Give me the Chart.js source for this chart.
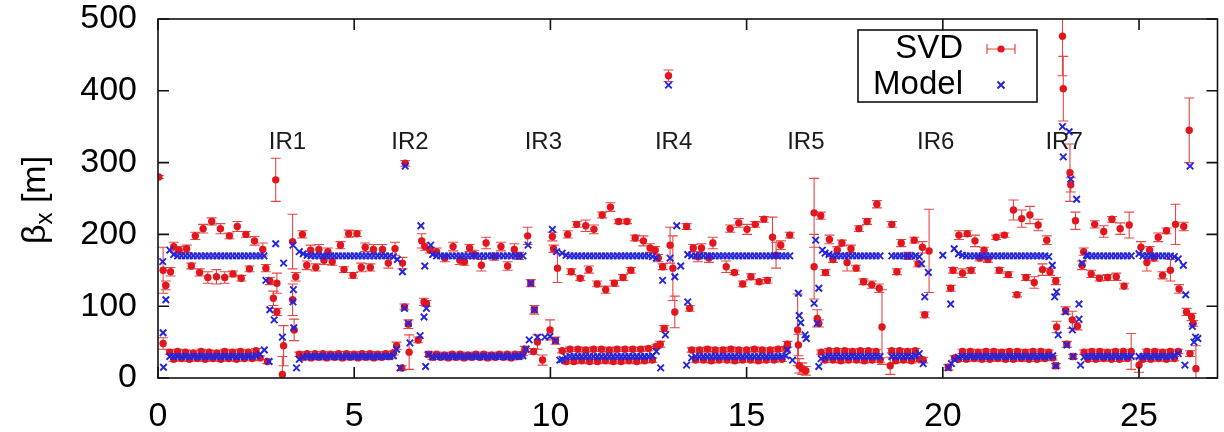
<!DOCTYPE html>
<html>
<head>
<meta charset="utf-8">
<script src="https://cdn.jsdelivr.net/npm/chart.js@4.4.1/dist/chart.umd.min.js"></script>
<style>
html, body { margin: 0; padding: 0; background: #fff; }
</style>
</head>
<body>
<canvas id="betaChart" width="1224" height="432"></canvas>
<script>
// horizontal beta function along the ring, s in km
var xTicks = [0, 5, 10, 15, 20, 25];
var yTicks = [0, 100, 200, 300, 400, 500];
var legendLabels = ['SVD', 'Model'];
var irLabels = ['IR1', 'IR2', 'IR3', 'IR4', 'IR5', 'IR6', 'IR7'];
var irS = [3.3, 6.42, 9.82, 13.14, 16.51, 19.82, 23.09];
var irLabelBeta = 328;

// model, high beta BPMs in the arcs [s, beta]
var modelHigh = [
  [0.4,172],[0.5,170],[0.6,170],[0.7,170],[0.8,170],[0.9,170],[1.0,170],[1.1,170],[1.2,170],[1.3,170],[1.4,170],[1.5,170],[1.6,170],[1.7,170],[1.8,170],[1.9,170],[2.0,170],[2.1,170],[2.2,170],[2.3,170],[2.4,170],[2.5,170],[2.6,170],[2.7,170],
  [3.7,173],[3.8,171],[3.9,170],[4.0,170],[4.1,170],[4.2,170],[4.3,170],[4.4,170],[4.5,170],[4.6,170],[4.7,170],[4.8,170],[4.9,170],[5.0,170],[5.1,170],[5.2,170],[5.3,170],[5.4,170],[5.5,170],[5.6,170],[5.7,170],[5.8,170],[5.9,170],[6.0,169],[6.1,165],
  [7.0,172],[7.1,170],[7.2,170],[7.3,170],[7.4,170],[7.5,170],[7.6,170],[7.7,170],[7.8,170],[7.9,170],[8.0,170],[8.1,170],[8.2,170],[8.3,170],[8.4,170],[8.5,170],[8.6,170],[8.7,170],[8.8,170],[8.9,170],[9.0,170],[9.1,170],[9.2,170],[9.3,170],
  [10.3,174],[10.4,171],[10.5,170],[10.6,170],[10.7,170],[10.8,170],[10.9,170],[11.0,170],[11.1,170],[11.2,170],[11.3,170],[11.4,170],[11.5,170],[11.6,170],[11.7,170],[11.8,170],[11.9,170],[12.0,170],[12.1,170],[12.2,170],[12.3,170],[12.4,170],[12.5,170],[12.6,169],[12.7,167],
  [13.5,172],[13.6,170],[13.7,170],[13.8,170],[13.9,170],[14.0,170],[14.1,170],[14.2,170],[14.3,170],[14.4,170],[14.5,170],[14.6,170],[14.7,170],[14.8,170],[14.9,170],[15.0,170],[15.1,170],[15.2,170],[15.3,170],[15.4,170],[15.5,170],[15.6,170],[15.7,170],[15.8,170],[15.9,170],[16.0,170],[16.1,170],
  [17.0,174],[17.1,172],[17.2,170],[17.3,170],[17.4,170],[17.5,170],[17.6,170],[17.7,170],[17.8,170],[17.9,170],[18.0,170],[18.1,170],[18.2,170],[18.3,170],[18.4,170],
  [18.7,170],[18.8,170],[18.9,170],[19.0,170],[19.1,170],[19.2,170],[19.3,170],[19.4,169],
  [20.4,173],[20.5,171],[20.6,170],[20.7,170],[20.8,170],[20.9,170],[21.0,170],[21.1,170],[21.2,170],[21.3,170],[21.4,170],[21.5,170],[21.6,170],[21.7,170],[21.8,170],[21.9,170],[22.0,170],[22.1,170],[22.2,170],[22.3,170],[22.4,170],[22.5,170],[22.6,170],[22.7,169],
  [23.7,170],[23.8,170],[23.9,170],[24.0,170],[24.1,170],[24.2,170],[24.3,170],[24.4,170],[24.5,170],[24.6,170],[24.7,170],[24.8,170],
  [25.0,173],[25.1,170],[25.2,170],[25.3,170],[25.4,170],[25.5,170],[25.6,170],[25.7,170],[25.8,170],[25.9,169],[26.0,166]
];

// model, low beta BPMs in the arcs [s, beta]
var modelLow = [
  [0.3,30],[0.4,30],[0.5,30],[0.6,30],[0.7,30],[0.8,30],[0.9,30],[1.0,30],[1.1,30],[1.2,30],[1.3,30],[1.4,30],[1.5,30],[1.6,30],[1.7,30],[1.8,30],[1.9,30],[2.0,30],[2.1,30],[2.2,30],[2.3,30],[2.4,30],[2.5,31],[2.6,33],
  [3.6,26],[3.7,29],[3.8,30],[3.9,30],[4.0,30],[4.1,30],[4.2,30],[4.3,30],[4.4,30],[4.5,30],[4.6,30],[4.7,30],[4.8,30],[4.9,30],[5.0,30],[5.1,30],[5.2,30],[5.3,30],[5.4,30],[5.5,30],[5.6,30],[5.7,30],[5.8,30],[5.9,30],[6.0,31],
  [6.9,33],[7.0,29],[7.1,30],[7.2,30],[7.3,30],[7.4,30],[7.5,30],[7.6,30],[7.7,30],[7.8,30],[7.9,30],[8.0,30],[8.1,30],[8.2,30],[8.3,30],[8.4,30],[8.5,30],[8.6,30],[8.7,30],[8.8,30],[8.9,30],[9.0,30],[9.1,30],[9.2,30],[9.3,31],
  [10.3,26],[10.4,29],[10.5,30],[10.6,30],[10.7,30],[10.8,30],[10.9,30],[11.0,30],[11.1,30],[11.2,30],[11.3,30],[11.4,30],[11.5,30],[11.6,30],[11.7,30],[11.8,30],[11.9,30],[12.0,30],[12.1,30],[12.2,30],[12.3,30],[12.4,30],[12.5,30],[12.6,31],[12.7,37],
  [13.6,28],[13.7,30],[13.8,30],[13.9,30],[14.0,30],[14.1,30],[14.2,30],[14.3,30],[14.4,30],[14.5,30],[14.6,30],[14.7,30],[14.8,30],[14.9,30],[15.0,30],[15.1,30],[15.2,30],[15.3,30],[15.4,30],[15.5,30],[15.6,30],[15.7,30],[15.8,30],[15.9,30],[16.0,31],
  [16.9,27],[17.0,29],[17.1,30],[17.2,30],[17.3,30],[17.4,30],[17.5,30],[17.6,30],[17.7,30],[17.8,30],[17.9,30],[18.0,30],[18.1,30],[18.2,30],[18.3,30],[18.4,30],
  [18.7,30],[18.8,30],[18.9,30],[19.0,30],[19.1,30],[19.2,30],[19.3,31],[19.4,34],
  [20.3,26],[20.4,29],[20.5,30],[20.6,30],[20.7,30],[20.8,30],[20.9,30],[21.0,30],[21.1,30],[21.2,30],[21.3,30],[21.4,30],[21.5,30],[21.6,30],[21.7,30],[21.8,30],[21.9,30],[22.0,30],[22.1,30],[22.2,30],[22.3,30],[22.4,30],[22.5,30],[22.6,30],[22.7,30],[22.8,31],
  [23.6,29],[23.7,30],[23.8,30],[23.9,30],[24.0,30],[24.1,30],[24.2,30],[24.3,30],[24.4,30],[24.5,30],[24.6,30],[24.7,30],[24.8,30],
  [25.0,30],[25.1,30],[25.2,30],[25.3,30],[25.4,30],[25.5,30],[25.6,30],[25.7,30],[25.8,30],[25.9,31],[26.0,34]
];

// model, BPMs around the insertion regions [s, beta]
var modelIR = [
  [0.12,162],[0.13,63],[0.14,15],[0.2,109],[0.3,178],
  [2.71,39],[2.83,23],[2.75,136],[2.85,95],[2.96,81],[3.0,187],[3.17,57],[3.2,160],[3.44,185],[3.45,123],[3.44,106],[3.46,70],[3.53,14],[3.6,176],
  [6.08,40],[6.17,14],[6.23,148],[6.3,295],[6.28,97],[6.38,76],[6.42,49],[6.7,212],[6.8,156],[6.84,97],[6.78,85],[6.68,59],[6.82,16],[6.95,185],
  [9.43,185],[9.5,132],[9.59,95],[9.38,40],[9.46,53],[9.67,57],[9.86,57],[9.99,58],[10.13,52],[10.24,25],[10.05,207],[10.16,176],
  [12.81,14],[12.86,136],[12.93,60],[13.01,408],[13.05,167],[13.17,141],[13.22,212],[13.32,156],[13.5,106],[13.47,18],
  [16.04,39],[16.17,25],[16.32,118],[16.34,87],[16.38,77],[16.49,60],[16.52,55],[16.72,104],[16.76,192],[16.8,76],[16.84,125],[16.84,16],[16.93,178],
  [19.46,159],[19.5,20],[19.54,113],[19.63,147],[20.0,171],[20.14,14],[20.2,103],[20.22,20],[20.29,180],
  [22.79,157],[22.85,113],[22.9,120],[22.88,17],[22.94,60],[23.05,350],[23.07,308],[23.13,92],[23.16,46],[23.22,343],[23.26,277],[23.3,67],[23.32,30],[23.41,249],[23.47,82],[23.47,103],[23.51,18],[23.55,160],[23.66,171],
  [26.13,157],[26.17,18],[26.19,116],[26.3,295],[26.36,72],[26.4,50],[26.44,57],[26.5,55]
];

// SVD, beating high beta BPMs in the arcs [s, beta, error]
var svdHigh = [
  [0.02,280,2],[0.13,150,32],[0.2,129,6],[0.32,148,6],[0.4,183,6],[0.54,178,5],[0.73,180,5],
  [0.95,198,5],[1.15,208,6],[1.37,218,5],[1.59,208,7],[1.82,198,4],[2.02,211,7],[2.24,200,4],[2.46,191,6],[2.67,179,9],
  [0.85,156,4],[1.06,147,5],[1.27,140,8],[1.49,141,10],[1.70,140,8],[1.91,145,4],[2.12,139,4],[2.33,152,4],[2.75,153,5],
  [3.68,200,5],[3.89,178,7],[4.1,179,7],[4.33,176,5],[4.65,185,5],[4.86,201,5],[5.07,201,4],[5.28,182,6],[5.49,179,7],[5.72,179,7],[6.04,180,9],
  [3.79,157,6],[4.02,154,5],[4.23,164,6],[4.44,162,5],[4.74,151,4],[4.97,143,4],[5.18,154,6],[5.41,154,5],[5.87,160,7],[6.23,160,8],
  [7.1,176,5],[7.31,167,5],[7.52,183,6],[7.69,164,6],[7.81,162,5],[7.94,181,5],[8.06,172,6],[8.24,157,8],[8.36,188,8],[8.57,169,5],[8.74,183,6],[8.91,156,6],[9.08,179,8],[9.2,170,5],
  [10.44,200,5],[10.67,214,4],[10.9,212,8],[11.11,207,6],[11.32,227,4],[11.53,238,6],[11.74,218,3],[11.95,218,3],[12.16,195,4],[12.37,191,7],[12.54,181,6],[12.67,178,5],
  [10.53,148,4],[10.76,139,3],[10.98,151,5],[11.19,131,4],[11.41,123,5],[11.63,132,4],[11.85,140,4],[12.05,150,4],[12.75,167,5],[12.86,155,4],
  [13.64,181,5],[13.85,181,6],[14.14,188,8],[14.58,208,5],[14.8,216,6],[15.01,207,7],[15.22,214,4],[15.44,221,4],[15.66,196,28],[15.87,185,6],[16.1,199,4],
  [13.76,169,7],[14.04,167,6],[14.48,155,8],[14.69,147,3],[14.9,131,4],[15.11,141,4],[15.32,134,3],[15.53,136,4],[15.75,171,18],
  [17.11,193,6],[17.31,178,5],[17.43,188,4],[17.66,180,5],[17.86,208,4],[18.07,218,4],[18.32,242,5],[18.7,214,4],[18.94,188,5],[19.27,192,4],[19.48,182,8],[19.65,177,58],
  [17.2,165,4],[17.56,161,12],[17.79,153,4],[17.98,134,4],[18.19,130,5],[18.38,125,6],[18.45,71,52],[18.66,17,12],[18.83,148,4],[19.12,170,5],[19.37,159,4],[19.54,88,4],
  [20.82,191,8],[21.05,178,4],[21.36,196,3],[21.57,199,3],[21.8,234,14],[22.01,222,12],[22.22,227,12],[22.43,213,8],[22.65,192,6],
  [20.94,167,4],[21.15,165,4],[21.44,150,4],[21.67,144,4],[21.89,116,3],[22.12,140,4],[22.33,133,8],[22.54,151,8],[22.73,148,5],[22.88,135,5],
  [23.87,214,5],[24.1,204,8],[24.31,221,4],[24.52,208,8],[24.75,213,18],[25.05,182,8],[25.27,178,5],[25.49,196,6],[25.7,205,4],[25.93,214,28],[26.14,211,6],[26.28,345,45],
  [23.78,145,5],[23.99,139,4],[24.2,140,4],[24.42,141,5],[24.62,128,4],[25.2,161,12],[25.38,167,4],[25.6,143,5],[25.8,150,15],[26.02,124,6],[26.21,92,5],[26.34,85,5],[26.38,76,4]
];

// SVD, low beta BPMs in the arcs [s, beta, error]
var svdLow = [
  [0.3,36,3],[0.4,26,3],[0.5,37,3],[0.6,27,3],[0.7,36,3],[0.8,26,3],[0.9,35,3],[1.0,27,3],[1.1,37,3],[1.2,26,3],[1.3,36,3],[1.4,27,3],[1.5,35,3],[1.6,26,3],[1.7,37,3],[1.8,27,3],[1.9,36,3],[2.0,26,3],[2.1,37,3],[2.2,27,3],[2.3,36,3],[2.4,27,3],[2.5,38,3],[2.6,28,3],
  [3.6,33,3],[3.7,29,3],[3.8,34,3],[3.9,28,3],[4.0,34,3],[4.1,29,3],[4.2,34,3],[4.3,28,3],[4.4,33,3],[4.5,29,3],[4.6,34,3],[4.7,28,3],[4.8,34,3],[4.9,29,3],[5.0,33,3],[5.1,28,3],[5.2,34,3],[5.3,29,3],[5.4,34,3],[5.5,28,3],[5.6,33,3],[5.7,29,3],[5.8,34,3],[5.9,30,3],[6.0,35,3],
  [6.9,33,3],[7.0,29,3],[7.1,33,3],[7.2,29,3],[7.3,32,3],[7.4,28,3],[7.5,33,3],[7.6,29,3],[7.7,33,3],[7.8,28,3],[7.9,32,3],[8.0,29,3],[8.1,33,3],[8.2,29,3],[8.3,33,3],[8.4,28,3],[8.5,32,3],[8.6,29,3],[8.7,33,3],[8.8,29,3],[8.9,33,3],[9.0,28,3],[9.1,33,3],[9.2,30,3],[9.3,34,3],
  [10.3,38,3],[10.4,23,3],[10.5,40,3],[10.6,23,3],[10.7,40,3],[10.8,24,3],[10.9,39,3],[11.0,23,3],[11.1,40,3],[11.2,23,3],[11.3,40,3],[11.4,24,3],[11.5,39,3],[11.6,23,3],[11.7,40,3],[11.8,23,3],[11.9,40,3],[12.0,24,3],[12.1,40,3],[12.2,23,3],[12.3,40,3],[12.4,24,3],[12.5,41,3],[12.6,25,3],[12.7,44,3],
  [13.6,39,3],[13.7,25,3],[13.8,39,3],[13.9,25,3],[14.0,40,3],[14.1,24,3],[14.2,39,3],[14.3,25,3],[14.4,39,3],[14.5,25,3],[14.6,40,3],[14.7,24,3],[14.8,39,3],[14.9,25,3],[15.0,39,3],[15.1,25,3],[15.2,40,3],[15.3,24,3],[15.4,39,3],[15.5,25,3],[15.6,39,3],[15.7,25,3],[15.8,40,3],[15.9,26,3],[16.0,41,3],
  [16.9,36,3],[17.0,25,3],[17.1,38,3],[17.2,25,3],[17.3,38,3],[17.4,24,3],[17.5,38,3],[17.6,25,3],[17.7,37,3],[17.8,25,3],[17.9,38,3],[18.0,24,3],[18.1,38,3],[18.2,25,3],[18.3,37,3],[18.4,25,3],
  [18.7,38,3],[18.8,24,3],[18.9,38,3],[19.0,25,3],[19.1,37,3],[19.2,24,3],[19.3,38,3],[19.4,26,3],
  [20.3,28,3],[20.4,26,3],[20.5,37,3],[20.6,26,3],[20.7,37,3],[20.8,27,3],[20.9,36,3],[21.0,26,3],[21.1,37,3],[21.2,26,3],[21.3,37,3],[21.4,27,3],[21.5,36,3],[21.6,26,3],[21.7,37,3],[21.8,26,3],[21.9,37,3],[22.0,27,3],[22.1,36,3],[22.2,26,3],[22.3,37,3],[22.4,26,3],[22.5,37,3],[22.6,27,3],[22.7,36,3],[22.8,28,3],
  [23.6,36,3],[23.7,26,3],[23.8,37,3],[23.9,26,3],[24.0,37,3],[24.1,27,3],[24.2,36,3],[24.3,26,3],[24.4,37,3],[24.5,26,3],[24.6,37,3],[24.7,27,3],[24.8,37,25],
  [25.0,18,10],[25.1,26,3],[25.2,37,3],[25.3,26,3],[25.4,37,3],[25.5,27,3],[25.6,36,3],[25.7,26,3],[25.8,37,3],[25.9,27,3],[26.0,37,3]
];

// SVD, BPMs around the insertion regions [s, beta, error]
var svdIR = [
  [0.13,48,8],
  [2.79,23,3],[2.85,135,5],[2.94,111,10],[3.03,92,5],[3.03,132,14],[3.0,276,30],[3.2,45,28],[3.17,5,25],[3.43,190,38],[3.51,141,6],[3.43,109,22],[3.47,67,15],
  [6.08,45,5],[6.21,14,3],[6.3,299,4],[6.28,99,4],[6.38,75,6],[6.4,36,24],[6.63,53,4],[6.72,191,10],[6.8,183,5],[6.78,106,5],[6.84,104,4],[6.93,178,4],
  [9.35,40,4],[9.42,198,12],[9.5,132,5],[9.59,95,6],[9.57,37,4],[9.67,50,10],[9.8,25,7],[9.99,67,14],[10.05,197,6],[10.08,180,5],[10.18,153,20],[10.13,52,5],
  [12.8,47,4],[12.9,69,4],[13.01,421,8],[13.05,185,25],[13.12,153,45],[13.17,92,22],[13.47,211,4],[13.55,97,4],
  [16.04,47,4],[16.3,67,50],[16.32,46,15],[16.34,17,10],[16.42,13,8],[16.51,10,6],[16.72,230,48],[16.72,155,45],[16.89,226,5],[16.8,83,12],[16.84,76,5],[17.01,147,4],
  [19.5,25,4],[20.14,15,4],[20.2,125,4],[20.26,150,4],[20.41,199,6],[20.5,146,6],[20.62,201,4],[20.72,150,4],
  [22.9,71,8],[22.88,17,3],[23.13,94,5],[23.16,47,4],[23.05,476,55],[23.07,403,45],[23.24,286,40],[23.26,269,10],[23.38,219,12],[23.3,81,12],[23.43,72,5],[23.32,30,3],[23.55,157,6],[23.59,176,5],
  [26.45,13,32],[26.3,34,4]
];

var svdColor = 'rgb(226,22,28)';
var errColor = 'rgba(228,50,50,0.9)';
var modelColor = 'rgb(36,36,222)';
var fontFamily = "'Liberation Sans', Arial, Helvetica, sans-serif";

Chart.defaults.font.family = fontFamily;

var toPoints = function (rows) {
    return rows.map(function (r) { return {x: r[0], y: r[1], err: r.length > 2 ? r[2] : 0}; });
};

var errorBars = {
    id: 'errorBars',
    beforeDatasetsDraw: function (chart) {
        var c = chart.ctx, a = chart.chartArea;
        var xs = chart.scales.x, ys = chart.scales.y;
        c.save();
        c.beginPath();
        c.rect(a.left, a.top, a.right - a.left, a.bottom - a.top);
        c.clip();
        c.strokeStyle = errColor;
        c.lineWidth = 1.1;
        c.beginPath();
        chart.data.datasets[0].data.forEach(function (p) {
            var px = xs.getPixelForValue(p.x);
            var y1 = ys.getPixelForValue(p.y - p.err), y2 = ys.getPixelForValue(p.y + p.err);
            c.moveTo(px, y1); c.lineTo(px, y2);
            c.moveTo(px - 5, y1); c.lineTo(px + 5, y1);
            c.moveTo(px - 5, y2); c.lineTo(px + 5, y2);
        });
        c.stroke();
        c.restore();
    }
};

var gnuFrame = {
    id: 'gnuFrame',
    afterDatasetsDraw: function (chart) {
        var c = chart.ctx, a = chart.chartArea;
        var xs = chart.scales.x, ys = chart.scales.y;
        c.save();
        c.strokeStyle = '#111';
        c.lineWidth = 1.6;
        c.strokeRect(a.left, a.top, a.right - a.left, a.bottom - a.top);
        c.beginPath();
        yTicks.forEach(function (v) {
            var py = ys.getPixelForValue(v);
            c.moveTo(a.left, py); c.lineTo(a.left + 11, py);
            c.moveTo(a.right, py); c.lineTo(a.right - 11, py);
        });
        xTicks.forEach(function (v) {
            var px = xs.getPixelForValue(v);
            c.moveTo(px, a.bottom); c.lineTo(px, a.bottom - 11);
            c.moveTo(px, a.top); c.lineTo(px, a.top + 11);
        });
        c.stroke();

        // IR labels
        c.fillStyle = '#1a1a1a';
        c.font = '24px ' + fontFamily;
        c.textAlign = 'center';
        c.textBaseline = 'middle';
        irLabels.forEach(function (t, i) {
            c.fillText(t, xs.getPixelForValue(irS[i]), ys.getPixelForValue(irLabelBeta));
        });
        c.restore();
    },
    afterDraw: function (chart) {
        var c = chart.ctx;
        c.save();

        // y axis title with subscript
        c.translate(36, 200);
        c.rotate(-Math.PI / 2);
        c.fillStyle = '#000';
        c.textBaseline = 'middle';
        c.textAlign = 'left';
        c.font = '34px ' + fontFamily;
        var w1 = c.measureText('\u03b2').width;
        var w3 = c.measureText(' [m]').width;
        c.font = '24px ' + fontFamily;
        var w2 = c.measureText('x').width;
        var x0 = -(w1 + w2 + w3) / 2;
        c.font = '34px ' + fontFamily;
        c.fillText('\u03b2', x0, 0);
        c.font = '24px ' + fontFamily;
        c.fillText('x', x0 + w1, 9);
        c.font = '34px ' + fontFamily;
        c.fillText(' [m]', x0 + w1 + w2, 0);
        c.setTransform(1, 0, 0, 1, 0, 0);

        // legend box, gnuplot style
        var bl = 858, bt = 30, br = 1037, bb = 102;
        c.fillStyle = '#fff';
        c.fillRect(bl, bt, br - bl, bb - bt);
        c.strokeStyle = '#111';
        c.lineWidth = 1.6;
        c.strokeRect(bl, bt, br - bl, bb - bt);
        c.fillStyle = '#000';
        c.font = '33px ' + fontFamily;
        c.textAlign = 'right';
        c.textBaseline = 'middle';
        c.fillText(legendLabels[0], 963, 49);
        c.fillText(legendLabels[1], 963, 85);

        c.strokeStyle = errColor;
        c.lineWidth = 1.2;
        c.beginPath();
        c.moveTo(987, 49); c.lineTo(1015, 49);
        c.moveTo(987, 44); c.lineTo(987, 54);
        c.moveTo(1015, 44); c.lineTo(1015, 54);
        c.stroke();
        c.fillStyle = svdColor;
        c.beginPath();
        c.arc(1001, 49, 3.6, 0, 2 * Math.PI);
        c.fill();

        c.strokeStyle = modelColor;
        c.lineWidth = 2;
        c.beginPath();
        c.moveTo(997.5, 81.5); c.lineTo(1004.5, 88.5);
        c.moveTo(1004.5, 81.5); c.lineTo(997.5, 88.5);
        c.stroke();
        c.restore();
    }
};

var ctx = document.getElementById('betaChart').getContext('2d');
var betaChart = new Chart(ctx, {
    type: 'scatter',
    data: {
        datasets: [
            {
                label: legendLabels[0],
                data: toPoints(svdHigh.concat(svdLow, svdIR)),
                pointStyle: 'circle',
                pointRadius: 3.7,
                backgroundColor: svdColor,
                borderColor: svdColor,
                borderWidth: 0,
                order: 2
            },
            {
                label: legendLabels[1],
                data: toPoints(modelHigh.concat(modelLow, modelIR)),
                pointStyle: 'crossRot',
                pointRadius: 4.6,
                backgroundColor: modelColor,
                borderColor: modelColor,
                borderWidth: 1.9,
                order: 1
            }
        ]
    },
    options: {
        responsive: false,
        animation: false,
        events: [],
        layout: { padding: { top: 19, right: 1, left: 0, bottom: 0 } },
        plugins: {
            legend: { display: false },
            tooltip: { enabled: false }
        },
        scales: {
            x: {
                type: 'linear',
                min: 0,
                max: 27,
                afterBuildTicks: function (scale) {
                    scale.ticks = xTicks.map(function (v) { return {value: v}; });
                },
                afterFit: function (scale) {
                    scale.height = 54;
                    scale.paddingLeft = 0;
                    scale.paddingRight = 0;
                },
                grid: { display: false, drawTicks: false },
                border: { display: false },
                ticks: {
                    autoSkip: false,
                    maxRotation: 0,
                    padding: 18,
                    color: '#000',
                    font: { size: 34 }
                }
            },
            y: {
                type: 'linear',
                min: 0,
                max: 500,
                afterBuildTicks: function (scale) {
                    scale.ticks = yTicks.map(function (v) { return {value: v}; });
                },
                afterFit: function (scale) {
                    scale.width = 158;
                    scale.paddingTop = 0;
                    scale.paddingBottom = 0;
                },
                grid: { display: false, drawTicks: false },
                border: { display: false },
                ticks: {
                    padding: 21,
                    color: '#000',
                    font: { size: 34 }
                }
            }
        }
    },
    plugins: [errorBars, gnuFrame]
});
</script>
</body>
</html>
